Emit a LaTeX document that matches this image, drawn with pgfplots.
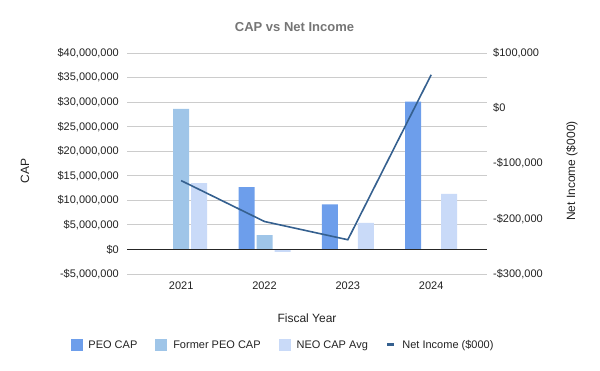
\documentclass[border=0pt]{standalone}
\usepackage{pgfplots}
\pgfplotsset{compat=1.18}
\usepackage{fontspec}
\setmainfont{Liberation Sans}
\definecolor{peo}{HTML}{6D9EEB}
\definecolor{fpeo}{HTML}{9FC5E8}
\definecolor{neo}{HTML}{C9DAF8}
\definecolor{ni}{HTML}{35608F}
\definecolor{gridc}{HTML}{CCCCCC}
\definecolor{titlec}{HTML}{757575}
\definecolor{txt}{HTML}{222222}
\begin{document}
\begin{tikzpicture}
\useasboundingbox (0,0) rectangle (600pt,371pt);
\begin{axis}[
  at={(127pt,97pt)}, anchor=south west,
  scale only axis, width=360pt, height=221pt,
  xmin=-0.65, xmax=3.67,
  ymin=-5000000, ymax=40000000,
  scaled y ticks=false,
  ytick={-5000000,0,5000000,10000000,15000000,20000000,25000000,30000000,35000000,40000000},
  yticklabels={{-\$5,000,000},{\$0},{\$5,000,000},{\$10,000,000},{\$15,000,000},{\$20,000,000},{\$25,000,000},{\$30,000,000},{\$35,000,000},{\$40,000,000}},
  xtick={0,1,2,3}, xticklabels={2021,2022,2023,2024},
  axis line style={draw=none}, major tick length=0pt,
  ymajorgrids, grid style={gridc, line width=0.8pt},
  yticklabel style={font=\fontsize{11}{13}\selectfont, text=txt, inner sep=0pt, anchor=east, xshift=-8pt},
  xticklabel style={font=\fontsize{11}{13}\selectfont, text=txt, inner sep=0pt, anchor=north, yshift=-8pt},
]
\addplot[ybar, bar width=16pt, bar shift=-18pt, fill=peo, draw=none] coordinates {(1,12700000) (2,9200000) (3,30100000)};
\addplot[ybar, bar width=16pt, bar shift=0pt, fill=fpeo, draw=none] coordinates {(0,28600000) (1,2900000)};
\addplot[ybar, bar width=16pt, bar shift=18pt, fill=neo, draw=none] coordinates {(0,13500000) (1,-500000) (2,5400000) (3,11300000)};
\draw[black!85, line width=0.8pt] (axis cs:-0.65,0) -- (axis cs:3.67,0);
\end{axis}
\begin{axis}[
  at={(127pt,97pt)}, anchor=south west,
  scale only axis, width=360pt, height=221pt,
  xmin=-0.65, xmax=3.67,
  ymin=-300000, ymax=100000,
  scaled y ticks=false,
  axis x line=none,
  axis y line*=right,
  ytick={-300000,-200000,-100000,0,100000},
  yticklabels={{-\$300,000},{-\$200,000},{-\$100,000},{\$0},{\$100,000}},
  axis line style={draw=none}, major tick length=0pt,
  yticklabel style={font=\fontsize{11}{13}\selectfont, text=txt, inner sep=0pt, anchor=west, xshift=6pt},
  legend columns=4,
  legend style={at={(0.432,-0.321)}, anchor=center, draw=none, fill=none,
    font=\fontsize{11}{13}\selectfont, text=txt,
    nodes={inner sep=1pt},
    /tikz/every even column/.append style={column sep=17pt},
    /tikz/every odd column/.append style={column sep=5.5pt}},
]
\addlegendimage{legend image code/.code={\fill[peo] (0pt,-5.5pt) rectangle (11pt,5.5pt);}}
\addlegendentry{PEO CAP}
\addlegendimage{legend image code/.code={\fill[fpeo] (0pt,-5.5pt) rectangle (11pt,5.5pt);}}
\addlegendentry{Former PEO CAP}
\addlegendimage{legend image code/.code={\fill[neo] (0pt,-5.5pt) rectangle (11pt,5.5pt);}}
\addlegendentry{NEO CAP Avg}
\addplot[ni, line width=1.6pt, legend image code/.code={\draw[ni, line width=3pt] (2pt,0pt) -- (9pt,0pt);}] coordinates {(0,-131000) (1,-205000) (2,-238000) (3,60500)};
\addlegendentry{Net Income (\$000)}
\end{axis}
\node[font=\bfseries\fontsize{13}{15}\selectfont, text=titlec] at (294.5pt,344.3pt) {CAP vs Net Income};
\node[font=\fontsize{12}{14}\selectfont, text=txt, rotate=90] at (25pt,200pt) {CAP};
\node[font=\fontsize{12}{14}\selectfont, text=txt, rotate=90] at (572pt,200pt) {Net Income (\$000)};
\node[font=\fontsize{12}{14}\selectfont, text=txt] at (307pt,53pt) {Fiscal Year};
\end{tikzpicture}
\end{document}
